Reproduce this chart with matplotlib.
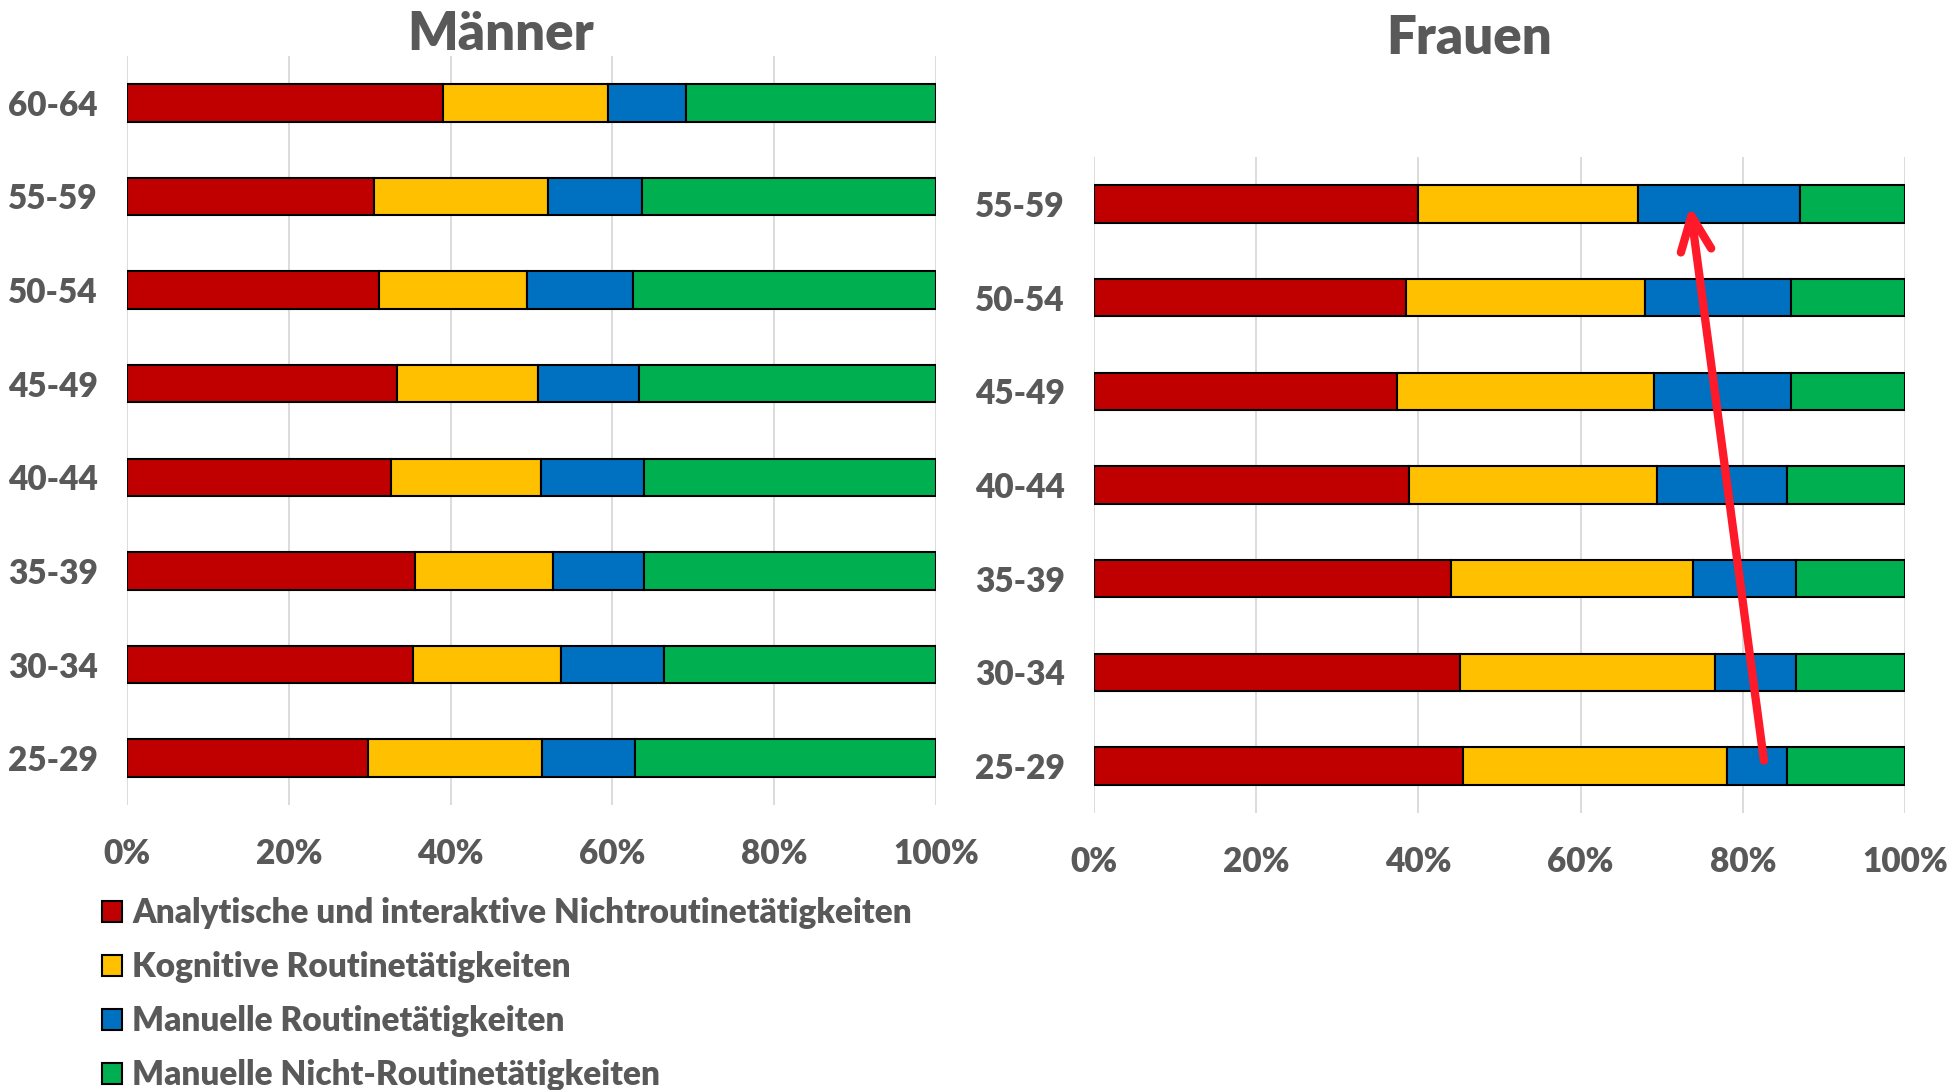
import matplotlib.pyplot as plt
from matplotlib.patches import Patch

# Daten (Anteile in %)
maenner_gruppen = ["25-29", "30-34", "35-39", "40-44", "45-49", "50-54", "55-59", "60-64"]
m_analytisch = [29.8, 35.3, 35.6, 32.6, 33.4, 31.1, 30.5, 39.1]
m_kognitiv = [21.5, 18.3, 17.0, 18.6, 17.4, 18.3, 21.5, 20.3]
m_manuell = [11.5, 12.8, 11.3, 12.7, 12.5, 13.1, 11.7, 9.7]
m_nicht_routine = [37.2, 33.6, 36.1, 36.1, 36.7, 37.5, 36.3, 30.9]

frauen_gruppen = ["25-29", "30-34", "35-39", "40-44", "45-49", "50-54", "55-59"]
f_analytisch = [45.5, 45.1, 44.0, 38.8, 37.4, 38.5, 40.0]
f_kognitiv = [32.6, 31.5, 29.9, 30.6, 31.7, 29.5, 27.1]
f_manuell = [7.3, 9.9, 12.6, 16.0, 16.8, 17.9, 19.9]
f_nicht_routine = [14.6, 13.5, 13.5, 14.6, 14.1, 14.1, 13.0]

serien = ["Analytische und interaktive Nichtroutinetätigkeiten",
          "Kognitive Routinetätigkeiten",
          "Manuelle Routinetätigkeiten",
          "Manuelle Nicht-Routinetätigkeiten"]
farben = ["#C00000", "#FFC000", "#0070C0", "#00B050"]
grau = "#595959"

plt.rcParams['font.family'] = ['Lato', 'DejaVu Sans']
plt.rcParams['font.weight'] = 'bold'

fig = plt.figure(figsize=(19.5, 10.9), dpi=100)
ax_m = fig.add_axes([127/1950, 1 - 805/1090, 809/1950, 749/1090])
ax_f = fig.add_axes([1094/1950, 1 - 813/1090, 811/1950, 656/1090])


def zeichne(ax, gruppen, werte, titel, titel_y):
    links = [0] * len(gruppen)
    for vals, farbe, name in zip(werte, farben, serien):
        ax.barh(gruppen, vals, left=links, height=0.4, color=farbe,
                edgecolor="black", linewidth=1.5, label=name, zorder=3)
        links = [a + b for a, b in zip(links, vals)]
    ax.set_xlim(0, 100)
    ax.set_ylim(-0.5, len(gruppen) - 0.5)
    ax.set_xticks([0, 20, 40, 60, 80, 100])
    ax.set_xticklabels(["0%", "20%", "40%", "60%", "80%", "100%"])
    ax.grid(axis="x", color="#D9D9D9", linewidth=1.3, zorder=0)
    for s in ax.spines.values():
        s.set_visible(False)
    ax.tick_params(axis="both", length=0, labelsize=24, labelcolor=grau)
    ax.tick_params(axis="x", pad=24)
    ax.tick_params(axis="y", pad=21)
    plt.setp(ax.get_xticklabels() + ax.get_yticklabels(), fontweight="heavy")
    fig.text(titel[1], titel_y, titel[0], ha="center", va="center",
             fontsize=38, fontweight="heavy", color=grau)


zeichne(ax_m, maenner_gruppen, [m_analytisch, m_kognitiv, m_manuell, m_nicht_routine],
        ("Männer", 501/1950), 1 - 34/1090)
zeichne(ax_f, frauen_gruppen, [f_analytisch, f_kognitiv, f_manuell, f_nicht_routine],
        ("Frauen", 1469/1950), 1 - 38/1090)

# roter Pfeil im Frauen-Diagramm
ax_f.annotate("", xy=(73.5, 5.98), xytext=(82.6, 0.06),
              arrowprops=dict(arrowstyle="->, head_length=0.5, head_width=0.22",
                              color="#FF1A2A", lw=6, mutation_scale=50,
                              capstyle="round", shrinkA=0, shrinkB=0), zorder=5)

handles = [Patch(facecolor=f, edgecolor="black", linewidth=1.5) for f in farben]
leg = fig.legend(handles, serien, loc="upper left", bbox_to_anchor=(102/1950, 1 - 897/1090),
                 frameon=False, fontsize=24, labelcolor=grau, handlelength=0.6,
                 handleheight=0.6, handletextpad=0.3, labelspacing=0.66,
                 borderaxespad=0, borderpad=0)
plt.setp(leg.get_texts(), fontweight="heavy")

fig.savefig("out.png", dpi=100)
